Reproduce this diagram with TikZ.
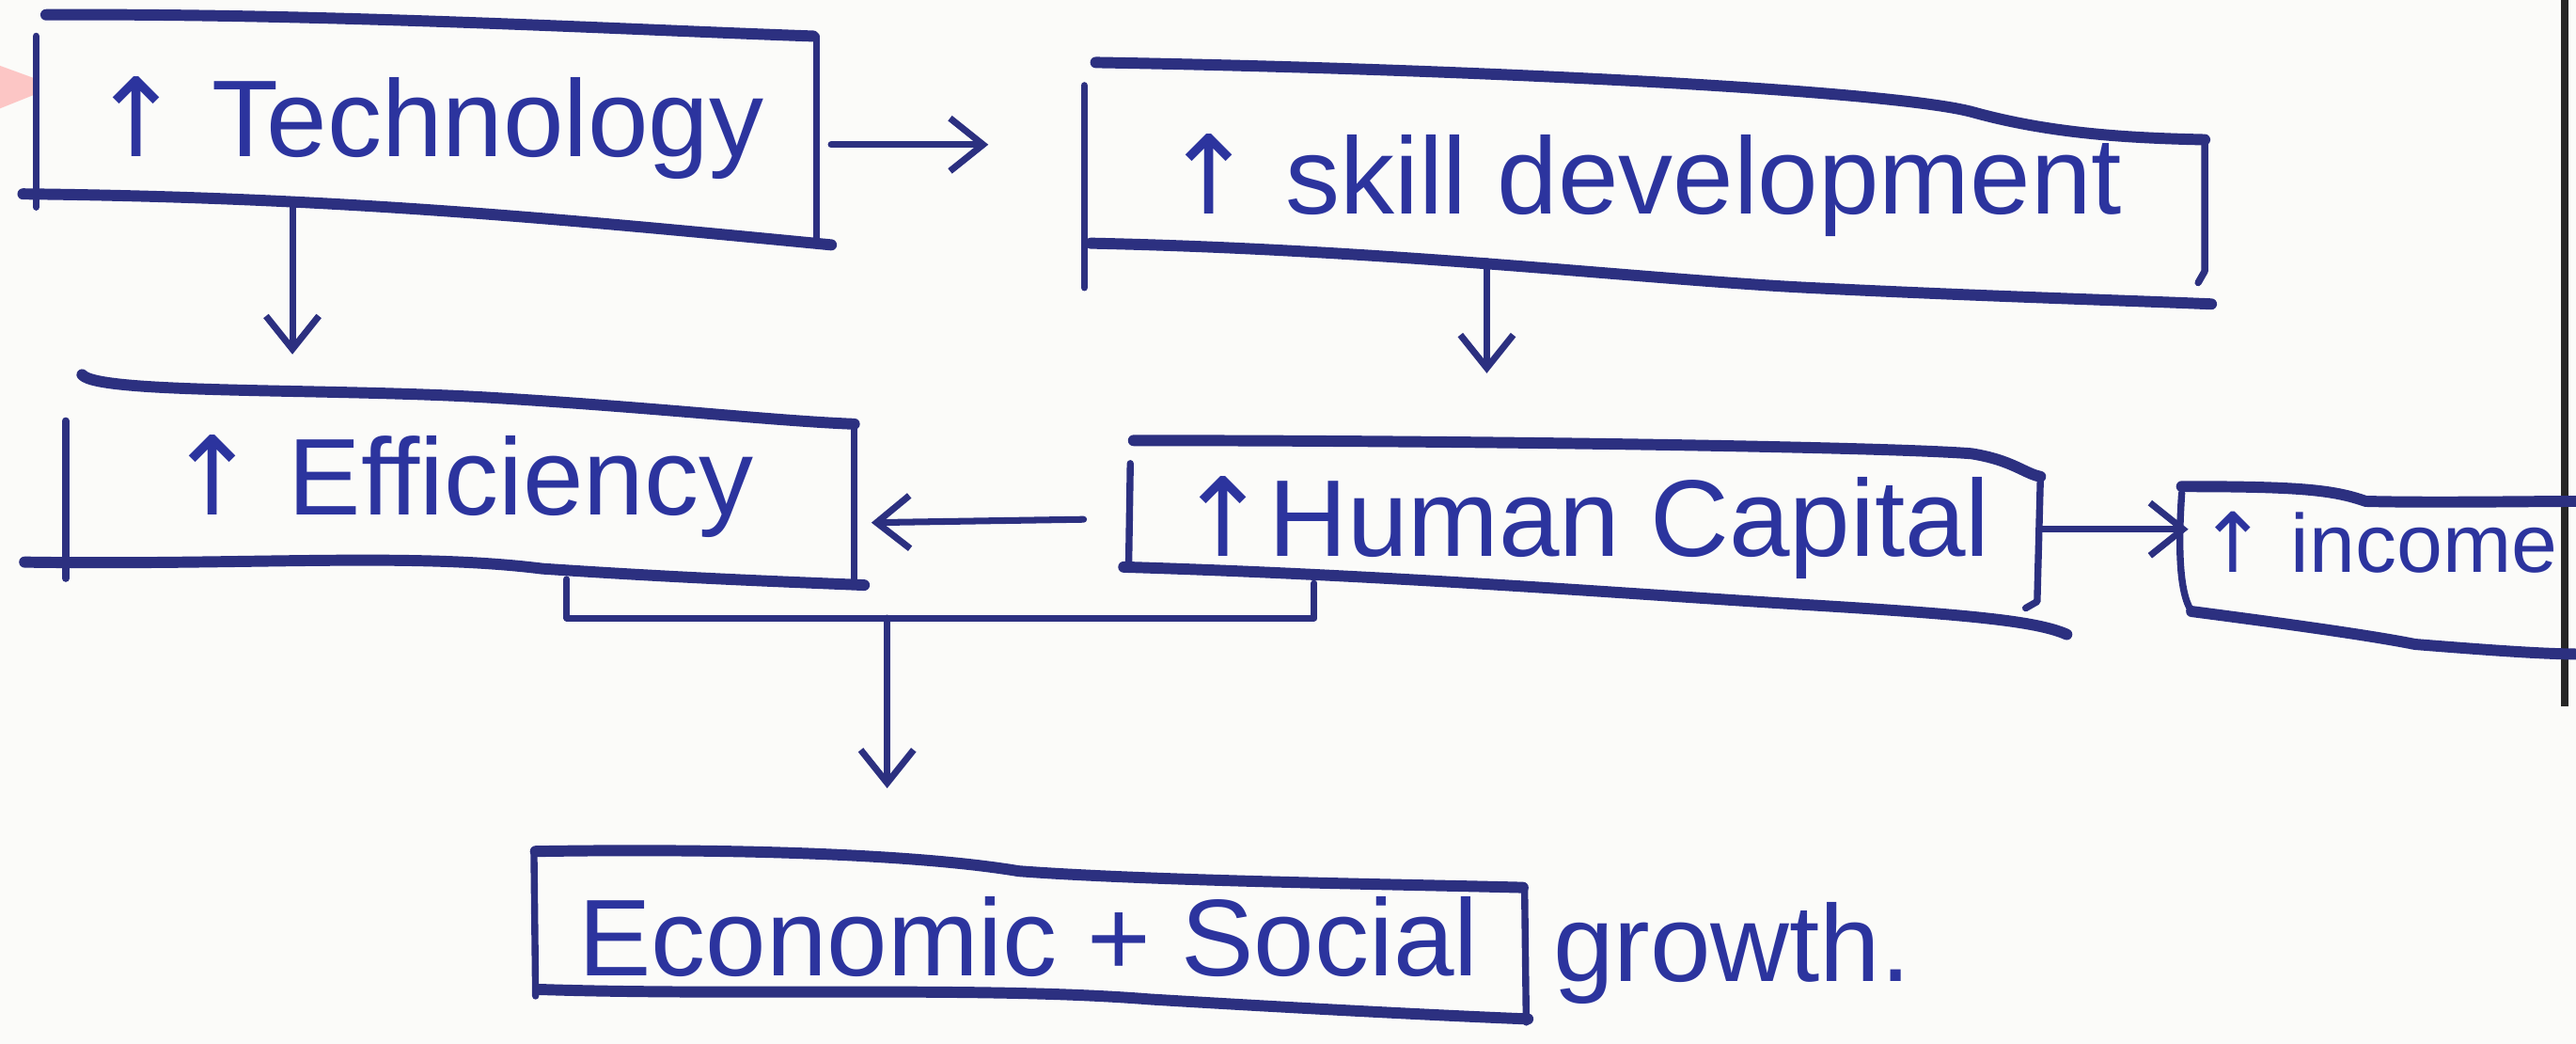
\documentclass[tikz,border=0pt]{standalone}
\usepackage{fontspec}
\setmainfont{Liberation Sans}
\newfontfamily\arrowfont{DejaVu Sans}
\newcommand\upa{{\arrowfont ↑}}
\usetikzlibrary{calc,arrows.meta}
\definecolor{ink}{RGB}{44,48,128}
\definecolor{inktext}{RGB}{44,52,158}
\definecolor{paper}{RGB}{251,251,249}
\def\pxu{0.017474cm}
\begin{document}
\begin{tikzpicture}[x=0.017474cm,y=-0.017474cm,
  box/.style={draw=none, inner sep=0pt, text=inktext,
    font=\fontsize{33}{40}\selectfont},
  hline/.style={draw=ink, line width=3.4pt, line cap=round, line join=round},
  vline/.style={draw=ink, line width=2.1pt, line cap=round, line join=round},
  link/.style={draw=ink, line width=2pt, line cap=round},
  arr/.style={link, -{Straight Barb[length=10pt,width=16pt,line width=2pt]}}]
\fill[paper] (0,0) rectangle (1568,635);
\useasboundingbox (0,0) rectangle (1568,635);

% red pencil mark at the left edge
\fill[red!60!white, opacity=0.35] (0,40) -- (22,48) -- (20,58) -- (0,66) -- cycle;
% page edge on the right
\draw[black!85, line width=2.2pt] (1561,0) -- (1561,430);

% ---------- nodes ----------
\node[box, minimum width=475*\pxu, minimum height=125*\pxu] (t) at (260,78) {\upa\ Technology};
\node[box, minimum width=680*\pxu, minimum height=107*\pxu] (s) at (1000,113) {\upa\ skill development};
\node[box, minimum width=480*\pxu, minimum height=104*\pxu] (e) at (280,296) {\upa\ Efficiency};
\node[box, minimum width=552*\pxu, minimum height=87*\pxu] (h) at (964,321) {\upa Human Capital};
\node[box, anchor=west, font=\fontsize{25}{30}\selectfont] (i) at (1338,330) {\upa\ income};
\node[box, minimum width=603*\pxu, minimum height=82*\pxu] (c) at (626,570) {Economic + Social};
\node[box, anchor=west] (g) at (945,580) {growth.};

% ---------- hand-drawn boxes ----------
% Technology
\draw[hline] (28,9) .. controls (200,8) and (380,18) .. (495,22);
\draw[hline] (14,118) .. controls (200,120) and (330,132) .. (506,149);
\draw[vline] (22,22) -- (22,126);
\draw[vline] (497,22) -- (497,146);
% skill development
\draw[hline] (667,38) .. controls (900,42) and (1150,55) .. (1200,68) .. controls (1250,82) and (1300,84) .. (1342,85);
\draw[hline] (664,148) .. controls (850,152) and (1000,170) .. (1100,175) .. controls (1200,180) and (1300,183) .. (1346,185);
\draw[vline] (660,52) -- (660,175);
\draw[vline] (1342,87) -- (1342,165) -- (1338,172);
% Efficiency
\draw[hline] (50,228) .. controls (60,240) and (200,236) .. (300,242) .. controls (400,248) and (470,256) .. (520,258);
\draw[hline] (15,342) .. controls (150,344) and (250,336) .. (330,346) .. controls (420,352) and (480,354) .. (526,356);
\draw[vline] (40,256) -- (40,352);
\draw[vline] (520,260) -- (520,356);
% Human Capital
\draw[hline] (690,268) .. controls (900,268) and (1150,272) .. (1200,276) .. controls (1225,280) and (1232,288) .. (1242,290);
\draw[hline] (684,345) .. controls (850,350) and (1000,362) .. (1100,368) .. controls (1200,374) and (1240,378) .. (1258,386);
\draw[vline] (688,282) -- (687,346);
\draw[vline] (1242,290) -- (1240,366) -- (1233,370);
% income
\draw[hline] (1328,296) .. controls (1400,296) and (1420,298) .. (1440,305) .. controls (1480,306) and (1540,305) .. (1570,305);
\draw[vline] (1328,300) .. controls (1326,330) and (1326,360) .. (1334,372);
\draw[hline] (1334,372) .. controls (1380,378) and (1440,386) .. (1470,392) .. controls (1520,396) and (1550,398) .. (1570,398);
% Economic + Social
\draw[hline] (326,518) .. controls (450,516) and (560,520) .. (620,530) .. controls (700,536) and (850,538) .. (927,540);
\draw[hline] (328,602) .. controls (450,606) and (600,600) .. (700,608) .. controls (800,614) and (880,618) .. (930,620);
\draw[vline] (325,518) -- (326,606);
\draw[vline] (928,540) -- (929,622);

% ---------- connectors ----------
\draw[arr] ($(t.east)+(8,10)$) -- ($(s.west)+(-58,-25)$);
\draw[arr] ($(t.south)+(-82,-16)$) -- ($(e.north)+(-102,-28)$);
\draw[arr] ($(s.south)+(-95,-8)$) -- ($(h.north)+(-59,-50)$);
\draw[arr] ($(h.west)+(-28,-5)$) -- ($(e.east)+(10,22)$);
\draw[arr] ($(h.east)+(2,1)$) -- ($(i.west)+(-6,-8)$);
\coordinate (j) at (540,376);
\draw[link, line join=round] ($(e.south)+(65,4)$) |- (j) -| ($(h.south)+(-164,-10)$);
\draw[arr] (j) -- ($(c.north)+(-86,-49)$);
\end{tikzpicture}
\end{document}
